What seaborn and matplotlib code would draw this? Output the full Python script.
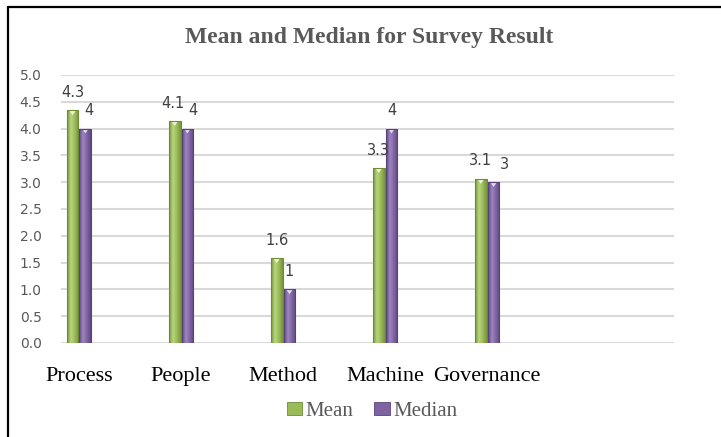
import numpy as np
import pandas as pd
import matplotlib
matplotlib.use("Agg")
import matplotlib.pyplot as plt
from matplotlib.lines import Line2D
from matplotlib.patches import Patch
from matplotlib.colors import LinearSegmentedColormap
import seaborn as sns

# ---- data ----
categories = ["Process", "People", "Method", "Machine", "Governance"]
mean_values = [4.34, 4.14, 1.58, 3.26, 3.06]
median_values = [4, 4, 1, 4, 3]
series_names = ["Mean", "Median"]
y_ticks = [0.0, 0.5, 1.0, 1.5, 2.0, 2.5, 3.0, 3.5, 4.0, 4.5, 5.0]

df = pd.DataFrame({
    "Category": categories * 2,
    "Series": [series_names[0]] * len(categories) + [series_names[1]] * len(categories),
    "Value": mean_values + median_values,
})

sns.set_theme(style="white")
plt.rcParams["font.family"] = ["DejaVu Sans"]

W, H = 721, 437
fig = plt.figure(figsize=(W / 100, H / 100), dpi=100)
ax = fig.add_axes([61 / W, 1 - 343 / H, (674 - 61) / W, (343 - 75) / H])

base_colors = {"Mean": "#9BBB59", "Median": "#8064A2"}
light_colors = {"Mean": "#B9D680", "Median": "#9E86C0"}
dark_colors = {"Mean": "#76943A", "Median": "#5E4880"}
edge_colors = {"Mean": "#6E8A35", "Median": "#584378"}

sns.barplot(data=df, x="Category", y="Value", hue="Series", order=categories,
            hue_order=series_names, palette=base_colors, width=0.25, gap=0.08,
            ax=ax, legend=False, zorder=3)

ax.set_yticks(y_ticks)
ax.set_yticklabels([f"{t:.1f}" for t in y_ticks])
ax.yaxis.grid(True, color="#D9D9D9", linewidth=1.5, zorder=0)
ax.xaxis.grid(False)
for s in ax.spines.values():
    s.set_visible(False)
ax.tick_params(axis="y", length=0, pad=14, labelsize=10, labelcolor="#595959")
ax.tick_params(axis="x", length=0, pad=17, labelsize=16, labelcolor="#000000")
for lab in ax.get_xticklabels():
    lab.set_fontfamily(["Liberation Serif", "DejaVu Serif"])
ax.set_xlabel("")
ax.set_ylabel("")

label_dx = {"Mean": [0, -2, 0, 0, 0], "Median": [4, 6, 0, 0, 11]}
n = len(categories)
patches = list(ax.patches)
for i, p in enumerate(patches):
    series = series_names[i // n]
    ci = i % n
    x0, y0 = p.get_x(), p.get_y()
    w, h = p.get_width(), p.get_height()
    cmap = LinearSegmentedColormap.from_list(
        "g", [dark_colors[series], light_colors[series], base_colors[series], dark_colors[series]])
    grad = np.linspace(0, 1, 64).reshape(1, -1)
    im = ax.imshow(grad, extent=[x0, x0 + w, y0, y0 + h], aspect="auto",
                   cmap=cmap, zorder=3.5, interpolation="bicubic")
    im.set_clip_path(p)
    tip = plt.Polygon([[x0 + w * 0.25, y0 + h - 0.01], [x0 + w * 0.75, y0 + h - 0.01],
                       [x0 + w * 0.5, y0 + h - 0.09]], closed=True,
                      facecolor="#EEF7D2" if series == "Mean" else "#E3D9F2",
                      edgecolor="none", zorder=4)
    ax.add_patch(tip)
    outline = plt.Rectangle((x0, y0), w, h, fill=False, edgecolor=edge_colors[series],
                            linewidth=0.8, zorder=4.5)
    ax.add_patch(outline)
    txt = f"{h:.1f}" if series == "Mean" else f"{h:g}"
    ax.annotate(txt, (x0 + w / 2, y0 + h), xytext=(label_dx[series][ci], 18),
                textcoords="offset pixels", ha="center", va="center",
                fontsize=10.5, color="#404040", zorder=5)

ax.set_xlim(-0.176, 5.83)
ax.set_ylim(0, 5)

fig.text(369 / W, 1 - 37 / H, "Mean and Median for Survey Result",
         ha="center", va="center", fontsize=17, fontweight="bold", color="#595959",
         family=["Liberation Serif", "DejaVu Serif"])

handles = [Patch(facecolor=base_colors[s], edgecolor=edge_colors[s], linewidth=0.6) for s in series_names]
fig.legend(handles, series_names, loc="center", bbox_to_anchor=(372 / W, 1 - 411 / H),
           ncol=2, frameon=False, handlelength=0.75, handleheight=0.6, handletextpad=0.15,
           columnspacing=1.0, prop={"family": ["Liberation Serif", "DejaVu Serif"], "size": 15},
           labelcolor="#595959")

fig.add_artist(Line2D([8 / W, 1.0], [1 - 7 / H, 1 - 7 / H], color="black", linewidth=1.6,
                      transform=fig.transFigure))
fig.add_artist(Line2D([8 / W, 8 / W], [0.0, 1 - 7 / H], color="black", linewidth=1.6,
                      transform=fig.transFigure))

fig.savefig("out.png", dpi=100)
